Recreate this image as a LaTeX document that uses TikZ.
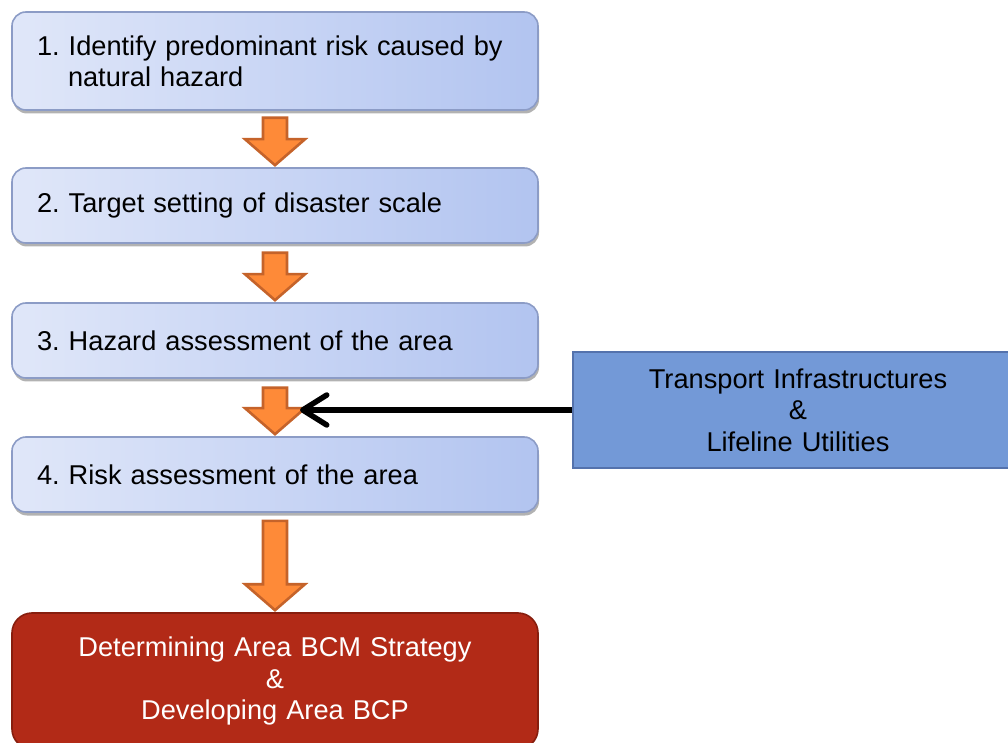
\documentclass[tikz,border=0pt]{standalone}
\usepackage{fontspec}
\setmainfont{Liberation Sans}
\usetikzlibrary{calc,arrows.meta,shadows}
\definecolor{stepL}{RGB}{224,231,249}
\definecolor{stepR}{RGB}{178,196,240}
\definecolor{stepBorder}{RGB}{140,156,198}
\definecolor{redFill}{RGB}{178,42,23}
\definecolor{redBorder}{RGB}{135,30,14}
\definecolor{blueFill}{RGB}{115,153,215}
\definecolor{blueBorder}{RGB}{84,114,172}
\definecolor{orFill}{RGB}{254,138,56}
\definecolor{orBorder}{RGB}{197,99,42}
\tikzset{
  stepbox/.style={rectangle, rounded corners=14pt, draw=stepBorder, line width=1.6pt,
    left color=stepL, right color=stepR, text width=476pt, inner xsep=25pt, inner ysep=0pt,
    align=left, anchor=center, font=\fontsize{27.2}{31}\selectfont,
    drop shadow={shadow xshift=1pt, shadow yshift=-3.5pt, fill=black, opacity=0.3}},
  goalbox/.style={rectangle, rounded corners=20pt, draw=redBorder, line width=1.6pt,
    fill=redFill, text=white, text width=500pt, inner xsep=13pt, align=center,
    font=\fontsize{27.2}{31.5}\selectfont},
  inbox/.style={rectangle, draw=blueBorder, line width=1.6pt, fill=blueFill,
    text=black, text width=420pt, inner xsep=15pt, align=center,
    font=\fontsize{27.2}{31.5}\selectfont},
  blockarrow/.style={draw=orBorder, fill=orFill, line width=2.6pt, line join=miter},
  feed/.style={line width=5.5pt, -{Straight Barb[length=24pt,width=30pt,line cap=round,line join=round]}}
}
\newcommand\flowarrow[3]{%
  \draw[blockarrow]
    ($(#1.south)+(-12,-#3)$) -- ($(#1.south)+(12,-#3)$) --
    ($(#2.north)+(12,28)$) -- ($(#2.north)+(30,28)$) -- ($(#2.north)+(0,2)$) --
    ($(#2.north)+(-30,28)$) -- ($(#2.north)+(-12,28)$) -- cycle;}
\begin{document}
\begin{tikzpicture}[x=1pt,y=1pt]
\useasboundingbox (0,0) rectangle (1008,742);
\clip (0,0) rectangle (1008,742);
\node[stepbox, minimum height=98pt] (b1) at (275,681)
  {\mbox{1.~Identify predominant risk caused by}\\\hspace*{31pt}natural hazard};
\node[stepbox, minimum height=75pt] (b2) at (275,536.5) {2.~Target setting of disaster scale};
\node[stepbox, minimum height=75pt] (b3) at (275,401.5) {3.~Hazard assessment of the area};
\node[stepbox, minimum height=75pt] (b4) at (275,267.5) {4.~Risk assessment of the area};
\node[goalbox, minimum height=136pt] (b5) at (275,61) {Determining Area BCM Strategy\\\&\\Developing Area BCP};
\node[inbox, minimum height=116pt] (tr) at (798,332) {Transport Infrastructures\\\&\\Lifeline Utilities};
\flowarrow{b1}{b2}{7}
\flowarrow{b2}{b3}{9}
\flowarrow{b3}{b4}{9}
\flowarrow{b4}{b5}{8}
\coordinate (hit) at (300,332);
\draw[feed] (tr.west) -- (hit);
\end{tikzpicture}
\end{document}
